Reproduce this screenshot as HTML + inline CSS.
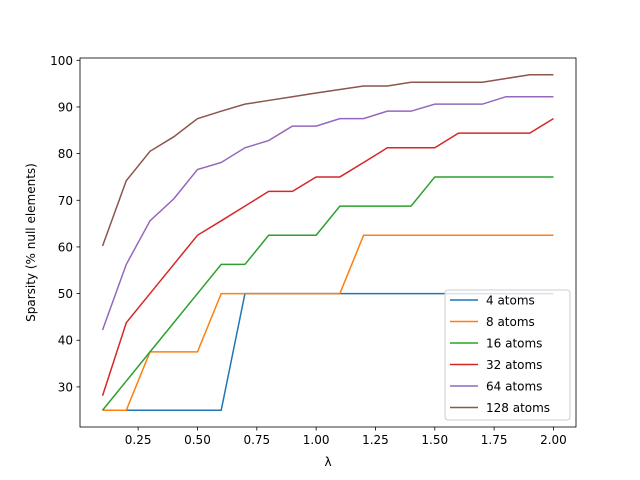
<!DOCTYPE html>
<html><head><meta charset="utf-8"><style>
body{margin:0;background:#fff}
svg{display:block;font-family:"DejaVu Sans","Liberation Sans",sans-serif}
</style></head><body>
<svg id="c" width="640" height="480"></svg>
<script>
const xs=[0.1,0.2,0.3,0.4,0.5,0.6,0.7,0.8,0.9,1.0,1.1,1.2,1.3,1.4,1.5,1.6,1.7,1.8,1.9,2.0];
const seriesNames=["4 atoms","8 atoms","16 atoms","32 atoms","64 atoms","128 atoms"];
const s4=[25,25,25,25,25,25,50,50,50,50,50,50,50,50,50,50,50,50,50,50];
const s8=[25,25,37.5,37.5,37.5,50,50,50,50,50,50,62.5,62.5,62.5,62.5,62.5,62.5,62.5,62.5,62.5];
const s16=[25,31.25,37.5,43.75,50,56.25,56.25,62.5,62.5,62.5,68.75,68.75,68.75,68.75,75,75,75,75,75,75];
const s32=[28.1,43.75,50,56.25,62.5,65.6,68.75,71.9,71.9,75,75,78.1,81.25,81.25,81.25,84.4,84.4,84.4,84.4,87.5];
const s64=[42.2,56.25,65.6,70.3,76.6,78.1,81.25,82.8,85.9,85.9,87.5,87.5,89.1,89.1,90.6,90.6,90.6,92.2,92.2,92.2];
const s128=[60.2,74.2,80.5,83.6,87.5,89.1,90.6,91.4,92.2,93,93.75,94.5,94.5,95.3,95.3,95.3,95.3,96.1,96.9,96.9];
const xTicks=[0.25,0.5,0.75,1.0,1.25,1.5,1.75,2.0];
const xTickLabels=["0.25","0.50","0.75","1.00","1.25","1.50","1.75","2.00"];
const yTicks=[30,40,50,60,70,80,90,100];
const colors=["#1f77b4","#ff7f0e","#2ca02c","#d62728","#9467bd","#8c564b"];
const L=80,R=576,T=58,B=427;
const all=[s4,s8,s16,s32,s64,s128];
let ymn=Math.min(...all.flat()),ymx=Math.max(...all.flat());
const yp=(ymx-ymn)*0.05;ymn-=yp;ymx+=yp;
let xmn=Math.min(...xs),xmx=Math.max(...xs);const xpd=(xmx-xmn)*0.05;xmn-=xpd;xmx+=xpd;
const X=v=>L+(v-xmn)/(xmx-xmn)*(R-L);
const Y=v=>B-(v-ymn)/(ymx-ymn)*(B-T);
const svg=document.getElementById('c');const NS="http://www.w3.org/2000/svg";
function mk(t,a,p){const e=document.createElementNS(NS,t);for(const k in a)e.setAttribute(k,a[k]);(p||svg).appendChild(e);return e;}
all.forEach((s,i)=>{
 const pl=mk('polyline',{points:s.map((v,j)=>X(xs[j])+','+Y(v)).join(' '),fill:'none',stroke:colors[i],'stroke-width':1.5});
 
 
});
const fr=mk('rect',{x:L,y:T,width:R-L,height:B-T,fill:'none',stroke:'#000','stroke-width':0.8});


xTicks.forEach((v,i)=>{mk('line',{x1:X(v),x2:X(v),y1:B,y2:B+3.5,stroke:'#000','stroke-width':0.8});
 const t=mk('text',{x:X(v),y:B+17,'text-anchor':'middle','font-size':10*1.0+'px'});t.style.fontSize='12px';t.textContent=xTickLabels[i];
 
 });
yTicks.forEach(v=>{mk('line',{x1:L-3.5,x2:L,y1:Y(v),y2:Y(v),stroke:'#000','stroke-width':0.8});
 const t=mk('text',{x:L-7,y:Y(v)+4.5,'text-anchor':'end'});t.style.fontSize='12px';t.textContent=v;
 
 });
const xt=mk('text',{x:(L+R)/2,y:466,'text-anchor':'middle'});xt.style.fontSize='12px';xt.textContent='λ';


const yt=mk('text',{x:0,y:0,'text-anchor':'middle',transform:`translate(35,${(T+B)/2}) rotate(-90)`});yt.style.fontSize='12px';yt.textContent='Sparsity (% null elements)';


const lg=mk('g',{});


mk('rect',{x:445,y:290,width:125,height:130,rx:3,fill:'#fff','fill-opacity':0.8,stroke:'#ccc'},lg);
seriesNames.forEach((n,i)=>{const y=300+i*21.5;
 mk('line',{x1:450,x2:478,y1:y,y2:y,stroke:colors[i],'stroke-width':1.5},lg);
 const t=mk('text',{x:486,y:y+4.5},lg);t.style.fontSize='12px';t.textContent=n;
 
 });
</script>
</body></html>
